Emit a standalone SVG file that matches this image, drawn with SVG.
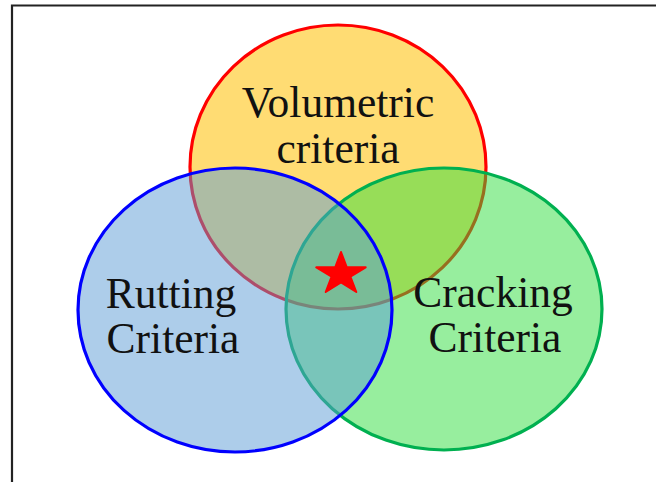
<svg xmlns="http://www.w3.org/2000/svg" width="656" height="482" viewBox="0 0 656 482">
<style>
.lbl{font-family:"Liberation Serif","Times New Roman",serif;font-size:43.5px;fill:#111;text-anchor:middle}
.set{stroke-width:3.2}
</style>
<rect x="0" y="0" width="656" height="482" fill="#fff"/>
<path d="M12,482 V5.5 H656" fill="none" stroke="#222" stroke-width="2.2"/>
<g id="volumetric">
<ellipse class="set" cx="338" cy="167" rx="148" ry="142" fill="#FFC000" fill-opacity="0.55" stroke="#FF0000"/>
<text class="lbl" x="338" y="117">Volumetric</text>
<text class="lbl" x="338" y="163">criteria</text>
</g>
<g id="cracking">
<ellipse class="set" cx="444" cy="309" rx="158" ry="141" fill="#2FDD3E" fill-opacity="0.5" stroke="#00B050"/>
</g>
<g id="rutting">
<ellipse class="set" cx="235" cy="310" rx="157" ry="142" fill="#5B9BD5" fill-opacity="0.5" stroke="#0000FF"/>
<text class="lbl" x="171" y="308">Rutting</text>
<text class="lbl" x="173" y="353">Criteria</text>
</g>
<g id="cracking-label">
<text class="lbl" x="493" y="307">Cracking</text>
<text class="lbl" x="495" y="352">Criteria</text>
</g>
<g id="star">
<polygon points="341,252 346.8,267.3 365.7,267.3 350.4,276.7 356.3,292 341,282.5 325.7,292 331.6,276.7 316.3,267.3 335.2,267.3" fill="#FF0000" stroke="#FF0000" stroke-width="2" stroke-linejoin="round"/>
</g>
<g id="connectors"></g>
</svg>
